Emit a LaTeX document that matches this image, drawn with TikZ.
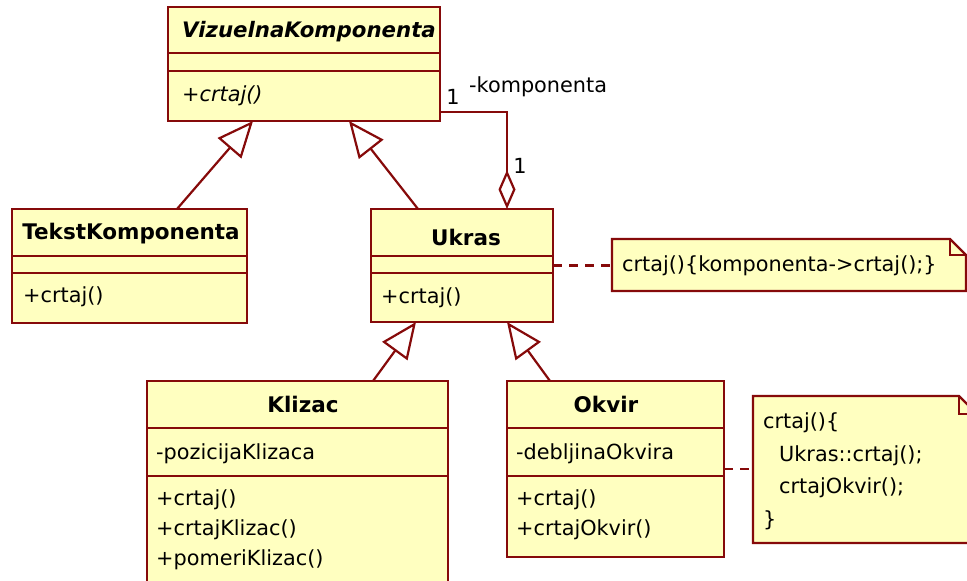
\documentclass[tikz,border=0pt]{standalone}
\usepackage{fontspec}
\setmainfont{DejaVu Sans}
\usetikzlibrary{arrows.meta,calc}
\definecolor{umlred}{RGB}{134,10,10}
\definecolor{umlfill}{RGB}{255,255,192}
\tikzset{
  classbox/.style={draw=umlred,fill=umlfill,line width=2.2pt,rectangle,anchor=north west,inner sep=0pt,outer sep=0pt},
  notebox/.style={rectangle,anchor=north west,inner sep=0pt,outer sep=0pt},
  sepline/.style={draw=umlred,line width=2.2pt},
  txt/.style={inner sep=0pt,anchor=base west,font=\fontsize{20.8}{30}\selectfont},
  ttl/.style={inner sep=0pt,anchor=base,font=\fontsize{21.5}{30}\selectfont\bfseries},
  gen/.style={draw=umlred,line width=2.2pt,-{Triangle[length=36pt,width=31pt,fill=white]}},
  agg/.style={draw=umlred,line width=2.2pt,-{Diamond[length=39pt,width=17pt,fill=white]}},
  noteline/.style={draw=umlred,line width=2.2pt,dash pattern=on 9pt off 7pt},
  noteshape/.style={draw=umlred,fill=umlfill,line width=2.2pt,line join=miter},
}
\begin{document}
\begin{tikzpicture}[x=1pt,y=-1pt]
\useasboundingbox (0,0) rectangle (967,581);
\clip (0,0) rectangle (967,581);
\fill[white] (0,0) rectangle (967,581);

% VizuelnaKomponenta
\node[classbox,minimum width=272pt,minimum height=114pt] (vk) at (168,7) {};
\draw[sepline] ($(vk.north west)+(0,46)$) -- ($(vk.north east)+(0,46)$);
\draw[sepline] ($(vk.north west)+(0,64)$) -- ($(vk.north east)+(0,64)$);
\node[ttl,font=\fontsize{21.3}{30}\selectfont\bfseries\itshape] (vkt) at (309,37) {VizuelnaKomponenta};
\node[txt,font=\fontsize{20.8}{30}\selectfont\itshape] (vkm) at (182,101) {+crtaj()};

% TekstKomponenta
\node[classbox,minimum width=235pt,minimum height=114pt] (tk) at (12,209) {};
\draw[sepline] ($(tk.north west)+(0,47)$) -- ($(tk.north east)+(0,47)$);
\draw[sepline] ($(tk.north west)+(0,64)$) -- ($(tk.north east)+(0,64)$);
\node[ttl] (tkt) at (131,239) {TekstKomponenta};
\node[txt] (tkm) at (23,302) {+crtaj()};

% Ukras
\node[classbox,minimum width=182pt,minimum height=113pt] (uk) at (371,209) {};
\draw[sepline] ($(uk.north west)+(0,47)$) -- ($(uk.north east)+(0,47)$);
\draw[sepline] ($(uk.north west)+(0,64)$) -- ($(uk.north east)+(0,64)$);
\node[ttl] (ukt) at (466,245) {Ukras};
\node[txt] (ukm) at (381,303) {+crtaj()};

% Klizac
\node[classbox,minimum width=301pt,minimum height=220pt] (kl) at (147,381) {};
\draw[sepline] ($(kl.north west)+(0,47)$) -- ($(kl.north east)+(0,47)$);
\draw[sepline] ($(kl.north west)+(0,95)$) -- ($(kl.north east)+(0,95)$);
\node[ttl] (klt) at (303,412) {Klizac};
\node[txt] (kla) at (156,459) {-pozicijaKlizaca};
\node[txt] (klm1) at (156,505) {+crtaj()};
\node[txt] (klm2) at (156,535) {+crtajKlizac()};
\node[txt] (klm3) at (156,565) {+pomeriKlizac()};

% Okvir
\node[classbox,minimum width=217pt,minimum height=176pt] (ok) at (507,381) {};
\draw[sepline] ($(ok.north west)+(0,47)$) -- ($(ok.north east)+(0,47)$);
\draw[sepline] ($(ok.north west)+(0,95)$) -- ($(ok.north east)+(0,95)$);
\node[ttl] (okt) at (606,412) {Okvir};
\node[txt] (oka) at (516,459) {-debljinaOkvira};
\node[txt] (okm1) at (516,505) {+crtaj()};
\node[txt] (okm2) at (516,535) {+crtajOkvir()};

% Note 1
\node[notebox,minimum width=354pt,minimum height=52pt] (n1) at (612,239) {};
\draw[noteshape] (n1.north west) -- ($(n1.north east)+(-16,0)$) -- ($(n1.north east)+(0,16)$) -- (n1.south east) -- (n1.south west) -- cycle;
\draw[sepline] ($(n1.north east)+(-16,0)$) -- ($(n1.north east)+(-16,16)$) -- ($(n1.north east)+(0,16)$);
\node[txt] (n1t) at (622,271) {crtaj()\{komponenta->crtaj();\}};

% Note 2
\node[notebox,minimum width=224pt,minimum height=147pt] (n2) at (753,396) {};
\draw[noteshape] (n2.north west) -- ($(n2.north east)+(-18,0)$) -- ($(n2.north east)+(0,18)$) -- (n2.south east) -- (n2.south west) -- cycle;
\draw[sepline] ($(n2.north east)+(-18,0)$) -- ($(n2.north east)+(-18,18)$) -- ($(n2.north east)+(0,18)$);
\node[txt] (n2a) at (763,428) {crtaj()\{};
\node[txt] (n2b) at (779,461) {Ukras::crtaj();};
\node[txt] (n2c) at (779,493) {crtajOkvir();};
\node[txt] (n2d) at (763,526) {\}};

% Generalizations
\draw[gen] ($(tk.north west)+(165,0)$) -- ($(vk.south west)+(85,0)$);
\draw[gen] ($(uk.north west)+(47,0)$) -- ($(vk.south west)+(181,0)$);
\draw[gen] ($(kl.north west)+(226,0)$) -- ($(uk.south west)+(45,0)$);
\draw[gen] ($(ok.north west)+(43,0)$) -- ($(uk.south west)+(136,0)$);

% Aggregation
\draw[agg] ($(vk.north east)+(0,105)$) -| ($(uk.north west)+(136,0)$);
\node[txt,anchor=base] (m1) at (453,104) {1};
\node[txt] (rl) at (469,92) {-komponenta};
\node[txt,anchor=base] (m2) at (520,173) {1};

% Note connectors
\draw[noteline] (uk.east) -- (uk.east -| n1.west);
\draw[noteline] (ok.east) -- (ok.east -| n2.west);
\end{tikzpicture}
\end{document}
